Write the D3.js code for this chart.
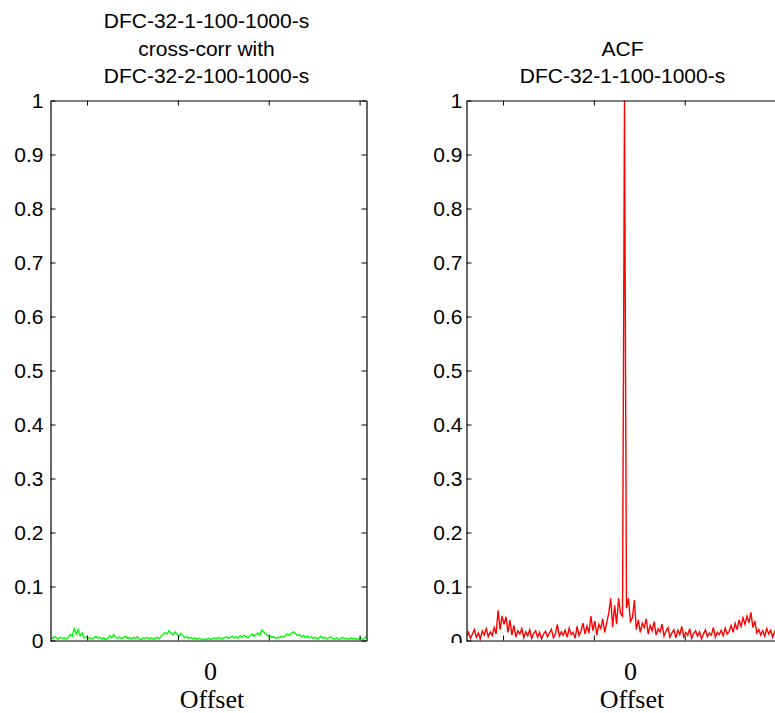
<!DOCTYPE html>
<html>
<head>
<meta charset="utf-8">
<script src="https://cdn.jsdelivr.net/npm/d3@7"></script>
<style>
  html, body { margin: 0; padding: 0; background: #fff; }
  svg { display: block; }
</style>
</head>
<body>
<script>
// ---------------- data ----------------
const lagMin = -80;            // first lag of each series
const yTicks = [0, 0.1, 0.2, 0.3, 0.4, 0.5, 0.6, 0.7, 0.8, 0.9, 1];
const xTicks = [-61.5, -15.5, 30.5, 76.5];   // unlabeled tick marks (lag units)
const xTickLabel = ["0"];
const xLabel = "Offset";
const leftTitle = ["DFC-32-1-100-1000-s", "cross-corr with", "DFC-32-2-100-1000-s"];
const rightTitle = ["ACF", "DFC-32-1-100-1000-s"];

// cross-correlation, lags -80..80
const crossCorr = [
  0.006, 0.004, 0.007, 0.005, 0.003, 0.006, 0.004, 0.005, 0.003, 0.006,
  0.011, 0.008, 0.022, 0.012, 0.020, 0.009, 0.014, 0.005, 0.007, 0.004,
  0.006, 0.003, 0.005, 0.008, 0.004, 0.006, 0.003, 0.005, 0.002, 0.004,
  0.009, 0.005, 0.011, 0.006, 0.004, 0.007, 0.003, 0.006, 0.008, 0.004,
  0.005, 0.003, 0.006, 0.004, 0.007, 0.003, 0.002, 0.005, 0.004, 0.006,
  0.003, 0.005, 0.002, 0.004, 0.006, 0.003, 0.008, 0.011, 0.015, 0.012,
  0.018, 0.014, 0.010, 0.016, 0.012, 0.007, 0.013, 0.009, 0.005, 0.007,
  0.004, 0.006, 0.003, 0.005, 0.002, 0.004, 0.003, 0.001, 0.003, 0.002,
  0.004, 0.002, 0.003, 0.005, 0.003, 0.006, 0.004, 0.003, 0.005, 0.007,
  0.004, 0.006, 0.008, 0.005, 0.007, 0.004, 0.009, 0.006, 0.010, 0.007,
  0.005, 0.009, 0.012, 0.008, 0.011, 0.014, 0.010, 0.019, 0.016, 0.012,
  0.008, 0.010, 0.006, 0.007, 0.004, 0.006, 0.005, 0.008, 0.006, 0.009,
  0.012, 0.010, 0.014, 0.016, 0.013, 0.009, 0.011, 0.007, 0.010, 0.006,
  0.008, 0.005, 0.007, 0.004, 0.006, 0.003, 0.005, 0.008, 0.004, 0.006,
  0.003, 0.005, 0.007, 0.004, 0.003, 0.005, 0.002, 0.004, 0.006, 0.003,
  0.004, 0.002, 0.005, 0.003, 0.004, 0.002, 0.003, 0.005, 0.002, 0.004,
  0.009
];

// autocorrelation, lags -80..80
const autoCorr = [
  0.008, 0.015, 0.004, 0.012, 0.020, 0.006, 0.014, 0.003, 0.018, 0.010,
  0.022, 0.007, 0.016, 0.009, 0.024, 0.012, 0.056, 0.020, 0.045, 0.030,
  0.044, 0.015, 0.038, 0.010, 0.028, 0.006, 0.018, 0.012, 0.022, 0.005,
  0.016, 0.009, 0.020, 0.004, 0.013, 0.018, 0.006, 0.015, 0.003, 0.012,
  0.017, 0.007, 0.014, 0.021, 0.005, 0.012, 0.030, 0.008, 0.016, 0.010,
  0.019, 0.006, 0.023, 0.011, 0.015, 0.004, 0.026, 0.009, 0.018, 0.032,
  0.012, 0.027, 0.014, 0.045, 0.018, 0.036, 0.010, 0.030, 0.022, 0.040,
  0.015, 0.033, 0.050, 0.078, 0.025, 0.065, 0.030, 0.078, 0.050, 0.045,
  1.000,
  0.060, 0.078, 0.035, 0.042, 0.075, 0.020, 0.038, 0.015, 0.032, 0.024,
  0.040, 0.012, 0.028, 0.018, 0.035, 0.010, 0.022, 0.016, 0.030, 0.008,
  0.017, 0.024, 0.006, 0.014, 0.020, 0.005, 0.019, 0.011, 0.026, 0.007,
  0.015, 0.010, 0.022, 0.004, 0.013, 0.018, 0.008, 0.016, 0.003, 0.012,
  0.020, 0.007, 0.014, 0.010, 0.024, 0.006, 0.015, 0.011, 0.019, 0.009,
  0.023, 0.012, 0.017, 0.028, 0.015, 0.032, 0.020, 0.038, 0.026, 0.042,
  0.030, 0.045, 0.033, 0.052, 0.024, 0.036, 0.014, 0.020, 0.010, 0.018,
  0.008, 0.022, 0.012, 0.019, 0.006, 0.016, 0.024, 0.010, 0.014, 0.020
];

// ---------------- layout ----------------
const W = 775, H = 713;
const SANS = "'Liberation Sans', Arial, Helvetica, sans-serif";
const SERIF = "'Liberation Serif', 'Times New Roman', Times, serif";

const svg = d3.select("body").append("svg")
  .attr("width", W).attr("height", H)
  .attr("viewBox", `0 0 ${W} ${H}`);
svg.append("rect").attr("width", W).attr("height", H).attr("fill", "#fff");

const panels = [
  { left: 50.5, right: 366.5, data: crossCorr, color: "#00ff00", title: leftTitle,
    labelPad: 7, xLabelShift: 3.5, clipLabels: false },
  { left: 466.5, right: 782.5, data: autoCorr, color: "#ff0000", title: rightTitle,
    labelPad: 4, xLabelShift: 7.5, clipLabels: true }
];
const plotTop = 100.5, plotBottom = 640.5;
const tickLen = 5;

const defs = svg.append("defs");

panels.forEach((p, pi) => {
  const lagMax = lagMin + p.data.length - 1;
  const x = d3.scaleLinear().domain([lagMin, lagMax]).range([p.left, p.right]);
  const y = d3.scaleLinear().domain([0, 1]).range([plotBottom, plotTop]);

  const g = svg.append("g");

  defs.append("clipPath").attr("id", "clip" + pi)
    .append("rect").attr("x", p.left).attr("y", plotTop - 1)
    .attr("width", p.right - p.left).attr("height", plotBottom - plotTop + 4);

  const line = d3.line()
    .x((d, i) => x(lagMin + i))
    .y(d => y(d));
  g.append("path")
    .datum(p.data)
    .attr("clip-path", `url(#clip${pi})`)
    .attr("fill", "none")
    .attr("stroke", p.color)
    .attr("stroke-width", 1.4)
    .attr("stroke-linejoin", "miter")
    .attr("d", line);

  const yAxisL = d3.axisLeft(y).tickValues(yTicks)
    .tickFormat(d3.format("")).tickSizeInner(-tickLen).tickSizeOuter(0)
    .tickPadding(p.labelPad);
  const gl = g.append("g").attr("transform", `translate(${p.left},0)`).call(yAxisL);
  if (p.clipLabels) {
    defs.append("clipPath").attr("id", "lblclip" + pi)
      .append("rect").attr("x", -100).attr("y", 0).attr("width", 200).attr("height", 643);
    gl.attr("clip-path", `url(#lblclip${pi})`);
  }

  const yAxisR = d3.axisRight(y).tickValues(yTicks)
    .tickFormat("").tickSizeInner(-tickLen).tickSizeOuter(0);
  const gr = g.append("g").attr("transform", `translate(${p.right},0)`).call(yAxisR);

  const xAxisT = d3.axisTop(x).tickValues(xTicks)
    .tickFormat("").tickSizeInner(-tickLen).tickSizeOuter(0);
  const gt = g.append("g").attr("transform", `translate(0,${plotTop})`).call(xAxisT);

  const xAxisB = d3.axisBottom(x).tickValues(xTicks)
    .tickFormat("").tickSizeInner(-tickLen).tickSizeOuter(0);
  const gb = g.append("g").attr("transform", `translate(0,${plotBottom})`).call(xAxisB);

  [gl, gr, gt, gb].forEach(a => {
    a.selectAll(".domain").attr("stroke", "#000").attr("stroke-width", 1.2);
    a.selectAll(".tick line").attr("stroke", "#000").attr("stroke-width", 1);
    a.selectAll("text").attr("font-family", SANS).attr("font-size", 21)
      .attr("fill", "#000");
  });
  gl.selectAll(".tick text").attr("dy", "0.34em");

  g.append("text")
    .attr("x", x(0) + p.xLabelShift - 1.5)
    .attr("y", 680)
    .attr("text-anchor", "middle")
    .attr("font-family", SERIF).attr("font-size", 26).attr("fill", "#000")
    .text(xTickLabel[0]);
  g.append("text")
    .attr("x", x(0) + p.xLabelShift)
    .attr("y", 708)
    .attr("text-anchor", "middle")
    .attr("font-family", SERIF).attr("font-size", 26).attr("fill", "#000")
    .text(xLabel);

  const cx = (p.left + p.right) / 2 - 2;
  const n = p.title.length;
  p.title.forEach((t, i) => {
    g.append("text")
      .attr("x", cx)
      .attr("y", 83 - (n - 1 - i) * 27.5)
      .attr("text-anchor", "middle")
      .attr("font-family", SANS).attr("font-size", 21).attr("fill", "#000")
      .text(t);
  });
});
</script>
</body>
</html>
